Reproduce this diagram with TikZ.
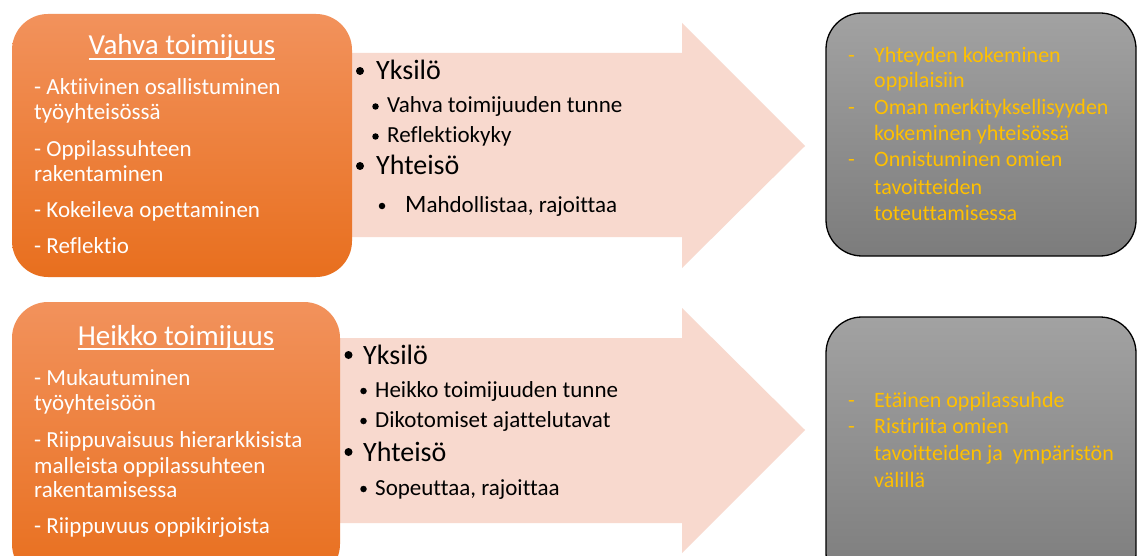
\documentclass[tikz,border=0pt]{standalone}
\usepackage{fontspec}
\setmainfont{Carlito}[Ligatures=NoCommon]
\usepackage{tikz}
\definecolor{orangetop}{RGB}{242,146,92}
\definecolor{orangebot}{RGB}{232,111,30}
\definecolor{arrowpink}{RGB}{248,217,206}
\definecolor{graytop}{RGB}{162,162,162}
\definecolor{graybot}{RGB}{124,124,124}
\definecolor{gold}{RGB}{255,192,0}

\begin{document}
\begin{tikzpicture}[x=1pt,y=-1pt,
  orangebox/.style={rounded corners=36,top color=orangetop,bottom color=orangebot,inner sep=0},
  graybox/.style={rounded corners=36,top color=graytop,bottom color=graybot,draw=black,line width=1.3,inner sep=0},
  title/.style={anchor=base,inner sep=0,white,font=\fontsize{29}{33}\selectfont},
  underl/.style={white,line width=1.3},
  item/.style={anchor=base west,inner sep=0,white,font=\fontsize{23}{27}\selectfont},
  lvlone/.style={anchor=base west,inner sep=0,font=\fontsize{28}{32}\selectfont},
  lvltwo/.style={anchor=base west,inner sep=0,font=\fontsize{23}{27}\selectfont},
  dotone/.style={circle,fill=black,inner sep=0,minimum size=8},
  dottwo/.style={circle,fill=black,inner sep=0,minimum size=6.5},
  golditem/.style={anchor=base west,inner sep=0,gold,font=\fontsize{22}{26}\selectfont}]
\clip (0,0) rectangle (1137,556);
\fill[white] (0,0) rectangle (1137,556);

% block arrows
\fill[arrowpink] (340,53)--(682,53)--(682,23)--(805,146)--(682,268)--(682,237)--(340,237)--cycle;
\fill[arrowpink] (330,338)--(682,338)--(682,308)--(805,430)--(682,553)--(682,523)--(330,523)--cycle;

% boxes
\node[orangebox,minimum width=340,minimum height=263] (vahva) at (182,145.5) {};
\node[orangebox,minimum width=328,minimum height=278] (heikko) at (176,441) {};
\node[graybox,minimum width=310,minimum height=243] (tulosA) at (981,134.5) {};
\node[graybox,minimum width=310,minimum height=272] (tulosB) at (981,453) {};

% top orange box
\node[title] (vahvaT) at (182,55) {Vahva toimijuus};
\draw[underl] ([yshift=-4pt]vahvaT.base west) -- ([yshift=-4pt]vahvaT.base east);
\foreach \y/\t [count=\i] in {95/- Aktiivinen osallistuminen,120/työyhteisössä,157/- Oppilassuhteen,182/rakentaminen,218/- Kokeileva opettaminen,253/- Reflektio}
  \node[item] (vahva\i) at (34,\y) {\t};

% bottom orange box
\node[title] (heikkoT) at (176,345) {Heikko toimijuus};
\draw[underl] ([yshift=-4pt]heikkoT.base west) -- ([yshift=-4pt]heikkoT.base east);
\foreach \y/\t [count=\i] in {385/- Mukautuminen,410/työyhteisöön,447/- Riippuvaisuus hierarkkisista,473/malleista oppilassuhteen,497/rakentamisessa,533/- Riippuvuus oppikirjoista}
  \node[item] (heikko\i) at (34,\y) {\t};

% top arrow
\node[dotone] (bA1) at (360,71) {};
\node[lvlone] (yksiloA) at (376,80) {Yksilö};
\node[dottwo] (bA2) at (375.5,106.5) {};
\node[lvltwo] (tunneA) at (387,113) {Vahva toimijuuden tunne};
\node[dottwo] (bA3) at (375.5,136.5) {};
\node[lvltwo] (reflA) at (387,143) {Reflektiokyky};
\node[dotone] (bA4) at (360,166) {};
\node[lvlone] (yhteisoA) at (376,175) {Yhteisö};
\node[dottwo] (bA5) at (382,206) {};
\node[lvltwo] (mahdA) at (405,212) {{\fontsize{25}{27}\selectfont M}ahdollistaa, rajoittaa};

% bottom arrow
\node[dotone] (bB1) at (348.5,355) {};
\node[lvlone] (yksiloB) at (363,364) {Yksilö};
\node[dottwo] (bB2) at (363.5,391) {};
\node[lvltwo] (tunneB) at (375,397) {Heikko toimijuuden tunne};
\node[dottwo] (bB3) at (363.5,421) {};
\node[lvltwo] (dikoB) at (375,427) {Dikotomiset ajattelutavat};
\node[dotone] (bB4) at (348.5,452) {};
\node[lvlone] (yhteisoB) at (363,461) {Yhteisö};
\node[dottwo] (bB5) at (363.5,489) {};
\node[lvltwo] (sopB) at (375,495) {Sopeuttaa, rajoittaa};

% top gray box
\foreach \y in {63,115,167}
  \node[golditem] (dA\y) at (848,\y) {-};
\foreach \y/\t [count=\i] in {63/Yhteyden kokeminen,88/oppilaisiin,115/Oman merkityksellisyyden,141/kokeminen yhteisössä,167/Onnistuminen omien,194/tavoitteiden,220/toteuttamisessa}
  \node[golditem] (tulosA\i) at (874,\y) {\t};

% bottom gray box
\foreach \y in {407,433}
  \node[golditem] (dB\y) at (848,\y) {-};
\foreach \y/\t [count=\i] in {407/Etäinen oppilassuhde,433/Ristiriita omien,460/tavoitteiden ja\ \ ympäristön,487/välillä}
  \node[golditem] (tulosB\i) at (874,\y) {\t};
\end{tikzpicture}
\end{document}
